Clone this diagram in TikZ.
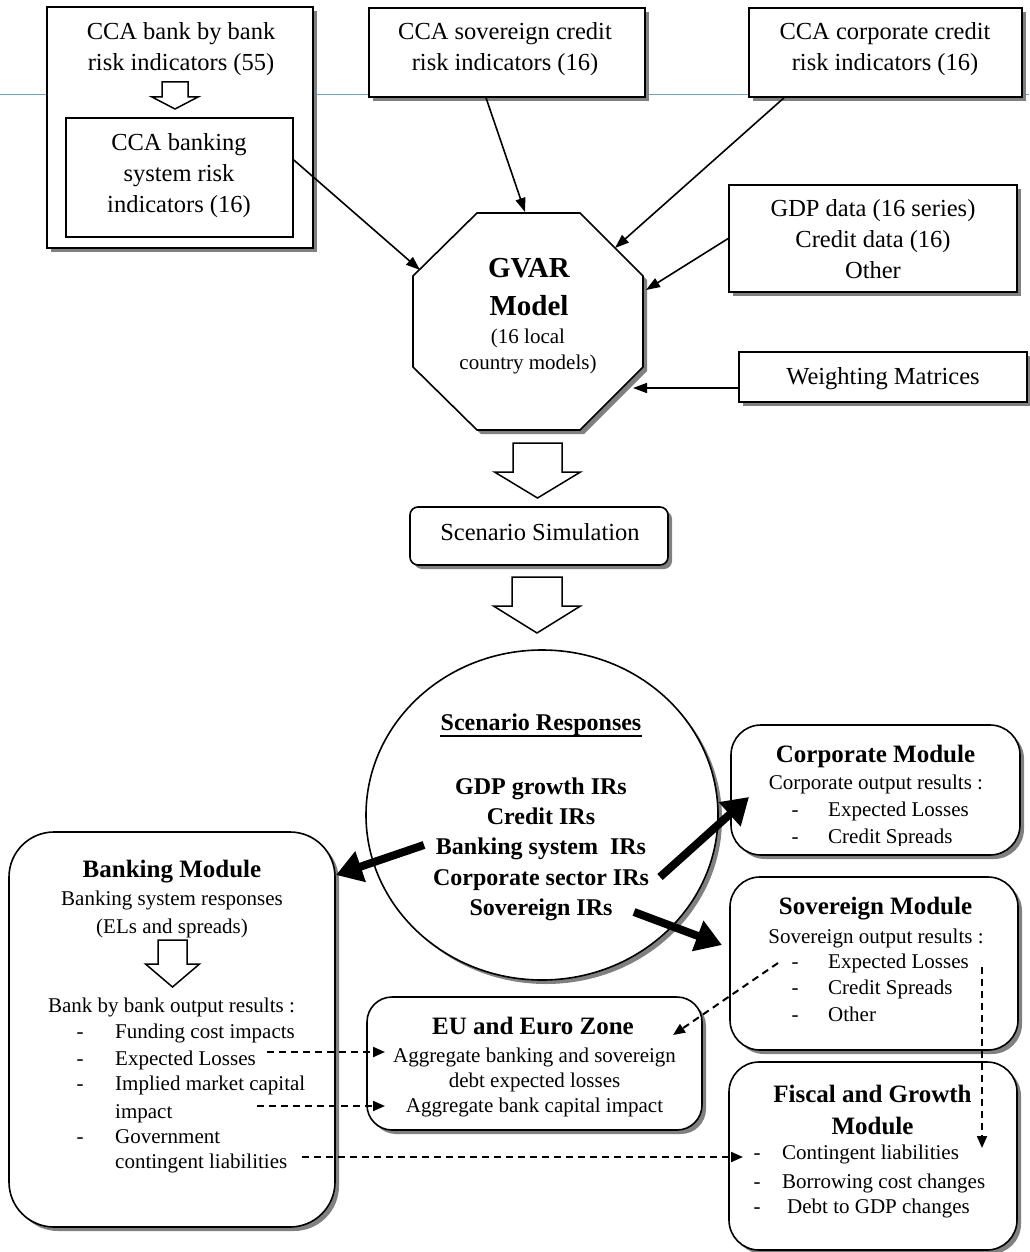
\documentclass[tikz,border=0pt]{standalone}
\usepackage{fontspec}
\setmainfont{Liberation Serif}
\usepackage{xcolor}
\usetikzlibrary{arrows.meta,shapes.geometric,shadows}

\definecolor{rulecol}{RGB}{110,160,200}
\newcommand\topfont{\fontsize{24.5}{30}\selectfont}
\newcommand\bodyfont{\fontsize{21}{26}\selectfont}
\newcommand\headfont{\fontsize{25}{30}\selectfont\bfseries}
\newcommand\gvarfont{\fontsize{29}{38}\selectfont\bfseries}
\newcommand\respfont{\fontsize{24}{30}\selectfont\bfseries}

\tikzset{
  boxshadow/.style={drop shadow={shadow xshift=4pt,shadow yshift=-4pt,fill=black!50,opacity=1}},
  box/.style={draw,line width=1.6pt,fill=white,inner sep=0pt,boxshadow},
  module/.style={box,rounded corners=30pt},
  txt/.style={inner sep=0pt,anchor=base},
  top/.style={txt,font=\topfont},
  body/.style={txt,font=\bodyfont},
  head/.style={txt,font=\headfont},
  item/.style={txt,font=\bodyfont,anchor=base west},
  feed/.style={line width=1.6pt,-{Triangle[length=14pt,width=10pt]}},
  push/.style={line width=8pt,-{Triangle[length=26pt,width=31pt]}},
  link/.style={line width=2pt,dash pattern=on 7pt off 5pt,-{Triangle[length=12pt,width=10pt]}},
  pics/hollowdown/.style n args={4}{code={
    \draw[line width=1.5pt,fill=white,line join=miter]
      (-#1,0) -- (#1,0) -- (#1,#3) -- (#2,#3) -- (0,#4) -- (-#2,#3) -- (-#1,#3) -- cycle;
  }}
}

\begin{document}
\begin{tikzpicture}[x=1pt,y=-1pt]
\useasboundingbox (0,0) rectangle (1029,1252);
\draw[rulecol,line width=1pt] (0,95) -- (1029,95);

% input boxes
\node[box,minimum width=266pt,minimum height=241pt] (bankbox) at (180,127.5) {};
\node[top] (bankbox-1) at (181,39.5) {CCA bank by bank};
\node[top] (bankbox-2) at (181,70.5) {risk indicators (55)};
\pic at (175,82) {hollowdown={13}{23}{15}{27}};
\node[draw,line width=1.6pt,fill=white,minimum width=227pt,minimum height=119pt] (banksys) at (179.5,177.5) {};
\node[top] (banksys-1) at (179,150.5) {CCA banking};
\node[top] (banksys-2) at (179,181.5) {system risk};
\node[top] (banksys-3) at (179,212.5) {indicators (16)};

\node[box,minimum width=276pt,minimum height=89pt] (sovbox) at (507,52.5) {};
\node[top] (sovbox-1) at (505,39.5) {CCA sovereign credit};
\node[top] (sovbox-2) at (505,70.5) {risk indicators (16)};

\node[box,minimum width=273pt,minimum height=89pt] (corpbox) at (885.5,52.5) {};
\node[top] (corpbox-1) at (885,39.5) {CCA corporate credit};
\node[top] (corpbox-2) at (885,70.5) {risk indicators (16)};

\node[box,minimum width=288pt,minimum height=107pt] (databox) at (873,238.5) {};
\node[top] (databox-1) at (873,216.5) {GDP data (16 series)};
\node[top] (databox-2) at (873,247.5) {Credit data (16)};
\node[top] (databox-3) at (873,278.5) {Other};

\node[box,minimum width=288pt,minimum height=50pt] (wbox) at (883,377) {};
\node[top] (wbox-1) at (883,384.5) {Weighting Matrices};

% GVAR octagon
\draw[box] (477,213) -- (580,213) -- (643,276) -- (643,367) -- (580,430) -- (477,430) -- (413,367) -- (413,276) -- cycle;
\coordinate (gvar) at (528,321.5);
\node[txt,font=\gvarfont] (gvar-1) at (529,277) {GVAR};
\node[txt,font=\gvarfont] (gvar-2) at (529,315) {Model};
\node[body] (gvar-3) at (528,343.5) {(16 local};
\node[body] (gvar-4) at (528,369.5) {country models)};
\coordinate (gv-a) at (420,270);
\coordinate (gv-b) at (525,212);
\coordinate (gv-c) at (615,248);
\coordinate (gv-d) at (646,290);
\coordinate (gv-e) at (633,388);

\draw[feed] ([yshift=17.5pt]banksys.east) -- (gv-a);
\draw[feed] ([xshift=-21pt]sovbox.south) -- (gv-b);
\draw[feed] ([xshift=-101.5pt]corpbox.south) -- (gv-c);
\draw[feed] (databox.west) -- (gv-d);
\draw[feed] ([yshift=-11pt]wbox.west) -- (gv-e);

% simulation
\pic at (537.5,443) {hollowdown={24.5}{43}{29}{55}};
\node[box,rounded corners=8pt,minimum width=258pt,minimum height=58pt] (sim) at (539,536) {};
\node[top] (sim-1) at (540,540.5) {Scenario Simulation};
\pic at (537,577) {hollowdown={25}{43.5}{29}{56}};

% responses
\node[box,ellipse,minimum width=352pt,minimum height=330pt] (resp) at (542,815) {};
\node[txt,font=\respfont] (resp-0) at (541,730.5) {Scenario Responses};
\draw[line width=2pt] ([yshift=-5pt]resp-0.base west) -- ([yshift=-5pt]resp-0.base east);
\foreach \y/\lbl [count=\i] in {794.5/GDP growth IRs,824.5/Credit IRs,854.5/Banking system~ IRs,885.5/Corporate sector IRs,915.5/Sovereign IRs}
  \node[txt,font=\respfont] (resp-\i) at (541,\y) {\lbl};

% modules
\node[module,minimum width=289pt,minimum height=130pt] (corpmod) at (875.5,790) {};
\node[head] (corpmod-t) at (875.5,762.5) {Corporate Module};
\node[body] (corpmod-s) at (876,789.5) {Corporate output results :};
\begin{scope}
  \clip (731,725) rectangle (1020,845);
  \foreach \y/\lbl [count=\i] in {816.5/Expected Losses,843.5/Credit Spreads} {
    \node[body] (corpmod-d\i) at (795,\y) {-};
    \node[item] (corpmod-\i) at (828,\y) {\lbl};
  }
\end{scope}

\node[module,minimum width=288pt,minimum height=173pt] (sovmod) at (874,963.5) {};
\node[head] (sovmod-t) at (875.5,914.5) {Sovereign Module};
\node[body] (sovmod-s) at (876,943.5) {Sovereign output results :};
\foreach \y/\lbl [count=\i] in {968.5/Expected Losses,994.5/Credit Spreads,1021.5/Other} {
  \node[body] (sovmod-d\i) at (795,\y) {-};
  \node[item] (sovmod-\i) at (828,\y) {\lbl};
}

\node[module,minimum width=288pt,minimum height=188pt] (fiscmod) at (873,1156) {};
\node[head] (fiscmod-t1) at (872.5,1102.5) {Fiscal and Growth};
\node[head] (fiscmod-t2) at (872.5,1134.5) {Module};
\foreach \y/\x/\lbl [count=\i] in {1159.5/782/Contingent liabilities,1188.5/782/Borrowing cost changes,1213.5/787/Debt to GDP changes} {
  \node[body] (fiscmod-d\i) at (757,\y) {-};
  \node[item] (fiscmod-\i) at (\x,\y) {\lbl};
}

\node[module,rounded corners=25pt,minimum width=335pt,minimum height=133pt] (eumod) at (534.5,1063.5) {};
\node[head] (eumod-t) at (533,1034.5) {EU and Euro Zone};
\node[body] (eumod-1) at (534.5,1062) {Aggregate banking and sovereign};
\node[body] (eumod-2) at (534.5,1087) {debt expected losses};
\node[body] (eumod-3) at (534.5,1112) {Aggregate bank capital impact};

\node[module,rounded corners=45pt,minimum width=326pt,minimum height=395pt] (bankmod) at (172,1029.5) {};
\node[head] (bankmod-t) at (172,877.5) {Banking Module};
\node[body] (bankmod-s1) at (172,905.5) {Banking system responses};
\node[body] (bankmod-s2) at (172,933.5) {(ELs and spreads)};
\pic at (172.5,940) {hollowdown={14.5}{27}{24}{47}};
\node[body] (bankmod-s3) at (171.5,1012.5) {Bank by bank output results :};
\foreach \y/\d/\lbl [count=\i] in {1038.5/-/Funding cost impacts,1065.5/-/Expected Losses,1090.5/-/Implied market capital,1118.5//impact,1143.5/-/Government,1168.5//contingent liabilities} {
  \node[body] (bankmod-d\i) at (80,\y) {\d};
  \node[item] (bankmod-\i) at (115,\y) {\lbl};
}

% scenario arrows
\coordinate (rb-from) at (424,845);
\coordinate (rb-to) at (336,875);
\coordinate (rc-from) at (660,877);
\coordinate (rc-to) at (749,797);
\coordinate (rs-from) at (634,912);
\coordinate (rs-to) at (722,945);
\draw[push] (rb-from) -- (rb-to);
\draw[push] (rc-from) -- (rc-to);
\draw[push] (rs-from) -- (rs-to);

% output links
\coordinate (be-from) at (267,1052);
\coordinate (be-to) at (385,1052);
\coordinate (bi-from) at (257,1106);
\coordinate (bi-to) at (385,1106);
\coordinate (bc-from) at (302,1157);
\coordinate (bc-to) at (743,1157);
\coordinate (se-from) at (778,963);
\coordinate (se-to) at (673,1035);
\coordinate (sf-from) at (982,967);
\coordinate (sf-to) at (982,1148);
\draw[link] (be-from) -- (be-to);
\draw[link] (bi-from) -- (bi-to);
\draw[link] (bc-from) -- (bc-to);
\draw[link] (se-from) -- (se-to);
\draw[link] (sf-from) -- (sf-to);
\end{tikzpicture}
\end{document}
